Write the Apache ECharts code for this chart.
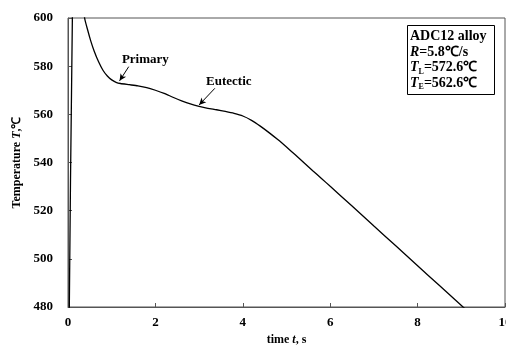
<!DOCTYPE html>
<html>
<head>
<meta charset="utf-8">
<script src="https://cdn.jsdelivr.net/npm/echarts@6/dist/echarts.min.js"></script>
<style>
  html, body { margin: 0; padding: 0; background: #fff; }
  #chart { width: 506px; height: 345px; }
</style>
</head>
<body>
<div id="chart"></div>
<script>
// Cooling curve of ADC12 alloy: time (s) vs temperature (℃)
const timeS = [0.02, 0.1, 0.18, 0.28, 0.38, 0.45, 0.52, 0.6, 0.7, 0.8, 0.9, 1.0, 1.1, 1.2, 1.4, 1.6, 1.8, 2.0, 2.2, 2.4, 2.6, 2.8, 3.0, 3.2, 3.4, 3.6, 3.8, 4.0, 4.2, 4.4, 4.6, 4.8, 5.0, 5.2, 5.4, 5.6, 5.8, 6.0, 6.5, 7.0, 7.5, 8.0, 8.5, 9.04, 9.2];
const tempC = [460, 600, 630, 618, 600, 595, 590.5, 586.2, 581.8, 578.3, 575.9, 574.3, 573.3, 572.8, 572.3, 571.8, 571.1, 570.0, 568.7, 567.1, 565.6, 564.3, 563.3, 562.5, 561.9, 561.2, 560.4, 559.3, 557.5, 555.1, 552.4, 549.5, 546.4, 543.2, 539.9, 536.6, 533.4, 530.1, 521.9, 513.6, 505.4, 497.1, 488.9, 480, 477.4];

// Axis ranges and ticks
const xTicks = [0, 2, 4, 6, 8, 10];
const yTicks = [480, 500, 520, 540, 560, 580, 600];

// Annotation texts and arrows (data coordinates)
const primaryLabel = { text: 'Primary', at: [1.77, 582.6] };
const primaryArrow = [[1.39, 579.8], [1.18, 573.9]];
const eutecticLabel = { text: 'Eutectic', at: [3.68, 573.6] };
const eutecticArrow = [[3.36, 570.8], [3.0, 563.9]];

// Info box lines
const alloyName = 'ADC12 alloy';
const coolingRate = '5.8℃/s';
const liquidusT = '572.6℃';
const eutecticT = '562.6℃';

const serif = '"Liberation Serif", "Times New Roman", serif';
const frameColor = '#555';

const chart = echarts.init(document.getElementById('chart'), null, { renderer: 'canvas' });

const series = timeS.map((t, i) => [t, tempC[i]]);

chart.setOption({
  animation: false,
  backgroundColor: '#fff',
  grid: {
    left: 68, right: 1, top: 18, bottom: 38,
    outerBoundsMode: 'none',
    show: true, borderColor: frameColor, borderWidth: 1
  },
  title: {
    left: 407, top: 25,
    borderColor: '#000', borderWidth: 1,
    padding: [4, 8, 4, 3],
    text: `{b|${alloyName}}\n{i|R}{b|=${coolingRate}}\n{i|T}{s|L}{b|=${liquidusT}}\n{i|T}{s|E}{b|=${eutecticT}}`,
    textStyle: {
      fontFamily: serif, fontWeight: 'bold', fontSize: 14, color: '#000', lineHeight: 15.5,
      rich: {
        b: { fontFamily: serif, fontWeight: 'bold', fontSize: 14, color: '#000', lineHeight: 15.5 },
        i: { fontFamily: serif, fontWeight: 'bold', fontStyle: 'italic', fontSize: 14, color: '#000', lineHeight: 15.5 },
        s: { fontFamily: serif, fontWeight: 'bold', fontSize: 8, color: '#000', verticalAlign: 'bottom', lineHeight: 15.5, padding: [5, 0, 0, 0] }
      }
    }
  },
  xAxis: {
    type: 'value',
    min: xTicks[0], max: xTicks[xTicks.length - 1], interval: 2,
    name: '{n|time }{i|t}{n|, s}',
    nameLocation: 'middle', nameGap: 26,
    nameTextStyle: {
      rich: {
        n: { fontFamily: serif, fontWeight: 'bold', fontSize: 12, color: '#000' },
        i: { fontFamily: serif, fontWeight: 'bold', fontStyle: 'italic', fontSize: 12, color: '#000' }
      }
    },
    axisLine: { show: true, lineStyle: { color: frameColor, width: 1 } },
    axisTick: { show: true, inside: true, length: 4, lineStyle: { color: frameColor } },
    axisLabel: { fontFamily: serif, fontWeight: 'bold', fontSize: 13, color: '#000', margin: 9, hideOverlap: false },
    splitLine: { show: false }
  },
  yAxis: {
    type: 'value',
    min: yTicks[0], max: yTicks[yTicks.length - 1], interval: 20,
    name: '{n|Temperature }{i|T}{n|,℃}',
    nameLocation: 'middle', nameGap: 44, nameRotate: 90,
    nameTextStyle: {
      rich: {
        n: { fontFamily: serif, fontWeight: 'bold', fontSize: 12, color: '#000' },
        i: { fontFamily: serif, fontWeight: 'bold', fontStyle: 'italic', fontSize: 12, color: '#000' }
      }
    },
    axisLine: { show: true, lineStyle: { color: frameColor, width: 1 } },
    axisTick: { show: true, inside: true, length: 4, lineStyle: { color: frameColor } },
    axisLabel: { fontFamily: serif, fontWeight: 'bold', fontSize: 13, color: '#000', margin: 15 },
    splitLine: { show: false }
  },
  series: [{
    type: 'line',
    data: series,
    showSymbol: false,
    smooth: 0.2,
    clip: true,
    lineStyle: { color: '#000', width: 1.3 },
    markLine: {
      silent: true,
      symbol: ['none', 'arrow'],
      symbolSize: [5, 7],
      label: { show: false },
      lineStyle: { color: '#000', width: 1, type: 'solid' },
      data: [
        [{ coord: primaryArrow[0] }, { coord: primaryArrow[1] }],
        [{ coord: eutecticArrow[0] }, { coord: eutecticArrow[1] }]
      ]
    },
    markPoint: {
      silent: true,
      symbol: 'circle', symbolSize: 0,
      label: {
        show: true, position: 'inside',
        fontFamily: serif, fontWeight: 'bold', fontSize: 13, color: '#000'
      },
      data: [
        { coord: primaryLabel.at, value: primaryLabel.text, label: { formatter: primaryLabel.text } },
        { coord: eutecticLabel.at, value: eutecticLabel.text, label: { formatter: eutecticLabel.text } }
      ]
    }
  }]
});
</script>
</body>
</html>
